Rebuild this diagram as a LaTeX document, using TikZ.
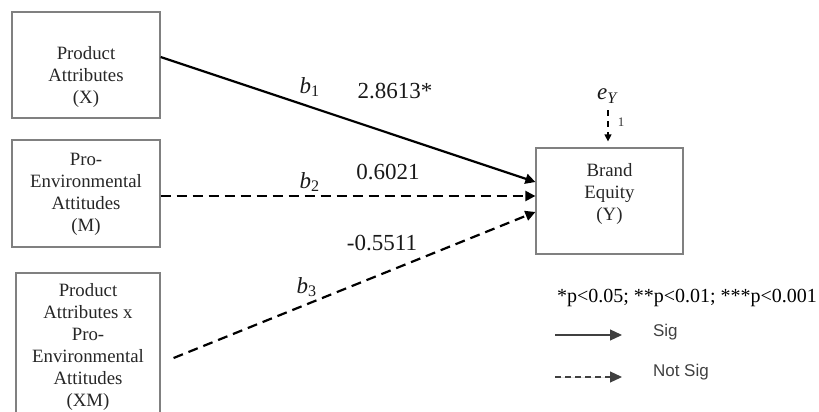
\documentclass[tikz,border=0pt]{standalone}
\usepackage{fontspec}
\setmainfont{Liberation Serif}
\newfontfamily\legendsans{Liberation Sans}
\usetikzlibrary{arrows.meta, positioning, calc}

\begin{document}
\begin{tikzpicture}[
  x=0.5pt, y=-0.5pt,
  box/.style={
    rectangle,
    draw=black!50,
    line width=0.6pt,
    inner sep=0pt
  },
  boxtext/.style={
    align=center,
    font=\fontsize{9.4}{11}\selectfont,
    text=black!85
  },
  coef/.style={
    font=\fontsize{11.5}{13}\selectfont,
    text=black!90
  },
  note/.style={
    font=\fontsize{10}{12}\selectfont
  },
  keytext/.style={
    anchor=west,
    font=\legendsans\fontsize{8.5}{10}\selectfont,
    text=black!75
  },
  arrow/.style={-{Triangle[length=5pt, width=5pt]}, line width=1.1pt},
  dashedarrow/.style={-{Triangle[length=5pt, width=5pt]}, line width=1.1pt,
    dash pattern=on 5pt off 3pt},
  errarrow/.style={-{Triangle[length=3.5pt, width=3.5pt]}, line width=0.6pt,
    dash pattern=on 3pt off 2.5pt, shorten >=3pt},
  keyarrow/.style={-{Triangle[length=6pt, width=5.5pt]}, line width=0.6pt, draw=black!75,
    fill=black!75},
  keydashed/.style={keyarrow, dash pattern=on 3pt off 2pt}
]

\clip (0,0) rectangle (819,412);

% ============================================================
% Boxes
% ============================================================

\node[box, minimum width=74pt, minimum height=53pt] (X) at (86,65) {};
\node[boxtext] (Xtext) at (86,77) {Product\\Attributes\\(X)};

\node[box, minimum width=74pt, minimum height=53.5pt] (M) at (86,193.5) {};
\node[boxtext] (Mtext) at (86,194) {Pro-\\Environmental\\Attitudes\\(M)};

\node[box, minimum width=72pt, minimum height=74pt] (XM) at (88,347) {};
\node[boxtext] (XMtext) at (88,347) {Product\\Attributes x\\Pro-\\Environmental\\Attitudes\\(XM)};

\node[box, minimum width=73.5pt, minimum height=53pt] (Y) at (609.5,201) {};
\node[boxtext] (Ytext) at (609.5,194) {Brand\\Equity\\(Y)};

% ============================================================
% Error term
% ============================================================

\node[coef] (eY) at (608,96) {\textit{e}\textsubscript{\textit{Y}}};
\node[font=\fontsize{6.5}{8}\selectfont, text=black!80] (one) at (621,122) {1};
\draw[errarrow] (eY.south) -- (Y.north -| eY.south);

% ============================================================
% Paths
% ============================================================

\draw[arrow] ([yshift=4pt]X.east) -- ([yshift=9.5pt]Y.west);
\draw[dashedarrow] ([yshift=-1.25pt]M.east) -- ([yshift=2.5pt]Y.west);
\coordinate (xmstart) at ($(XM.east)+(13,11)$);
\draw[dashedarrow] (xmstart) -- ([yshift=-5.5pt]Y.west);

\node[coef] (b1) at (310,87) {\textit{b}\textsubscript{1}};
\node[coef] (c1) at (395,91) {2.8613*};
\node[coef] (b2) at (310,182) {\textit{b}\textsubscript{2}};
\node[coef] (c2) at (388,172) {0.6021};
\node[coef] (c3) at (382,243) {-0.5511};
\node[coef] (b3) at (307,287) {\textit{b}\textsubscript{3}};

% ============================================================
% Legend
% ============================================================

\node[note] (pvals) at (687,298) {*p<0.05; **p<0.01; ***p<0.001};

\coordinate (sigA) at (555,335);
\coordinate (sigB) at (622,335);
\draw[keyarrow] (sigA) -- (sigB);
\node[keytext] (sig) at (646,332) {Sig};

\coordinate (nsA) at (555,377);
\coordinate (nsB) at (622,377);
\draw[keydashed] (nsA) -- (nsB);
\node[keytext] (notsig) at (646,372) {Not Sig};

\end{tikzpicture}
\end{document}
